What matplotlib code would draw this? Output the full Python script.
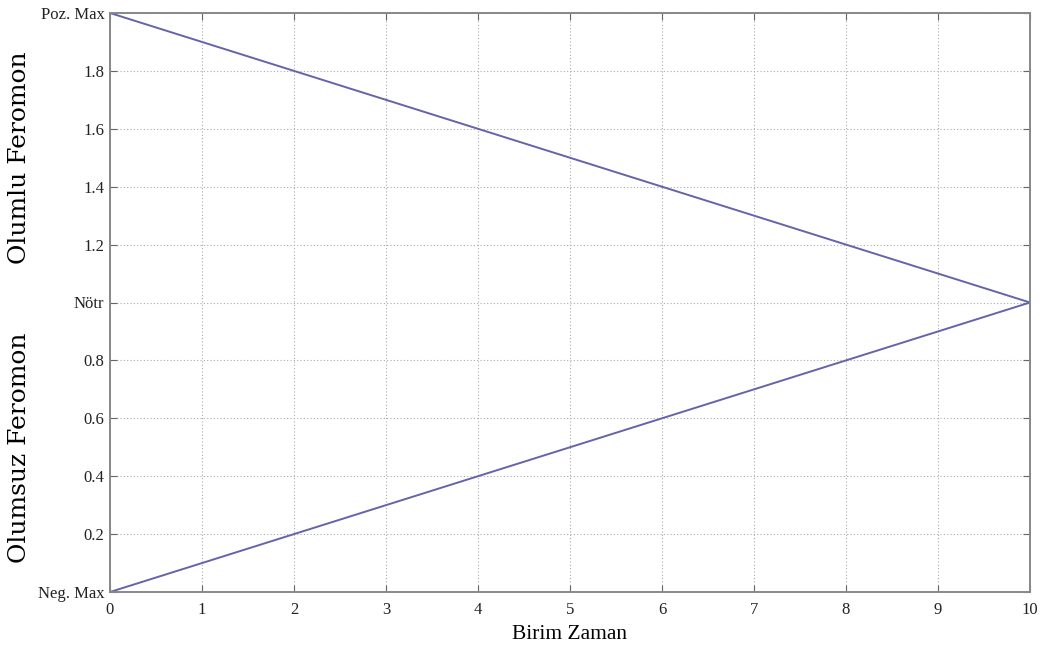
import numpy as np
import matplotlib.pyplot as plt

# Data
time = [0, 10]
positive = [2, 1]
negative = [0, 1]
xticks = list(range(0, 11))
yticks = [0, 0.2, 0.4, 0.6, 0.8, 1.0, 1.2, 1.4, 1.6, 1.8, 2.0]
ylabels = ["Neg. Max", "0.2", "0.4", "0.6", "0.8", "Nötr", "1.2", "1.4", "1.6", "1.8", "Poz. Max"]

plt.rcParams["font.family"] = ["Liberation Serif", "DejaVu Serif"]

fig = plt.figure(figsize=(10.46, 6.53), dpi=100)
ax = fig.add_axes([110 / 1046, 1 - 592 / 653, 920 / 1046, 579 / 653])

line_color = "#6464aa"
ax.plot(time, positive, color=line_color, lw=1.4)
ax.plot(time, negative, color=line_color, lw=1.4)

ax.set_xlim(0, 10)
ax.set_ylim(0, 2)
ax.set_xticks(xticks)
ax.set_yticks(yticks)
ax.set_yticklabels(ylabels)
ax.tick_params(direction="in", top=True, right=True, labelsize=12, length=5,
               color="#666666", labelcolor="#222222")
ax.tick_params(axis="x", pad=7)
ax.tick_params(axis="y", pad=4)
ax.grid(True, linestyle=(0, (1, 2)), color="#aaaaaa", lw=0.8)
for s in ax.spines.values():
    s.set_color("#888888")
    s.set_linewidth(1.4)

ax.set_xlabel("Birim Zaman", fontsize=15.5, labelpad=5)
fig.text(20 / 1046, 1 - 158 / 653, "Olumlu Feromon", rotation=90, fontsize=18,
         family="DejaVu Serif", ha="center", va="center")
fig.text(20 / 1046, 1 - 448 / 653, "Olumsuz Feromon", rotation=90, fontsize=18,
         family="DejaVu Serif", ha="center", va="center")

fig.savefig("out.png", dpi=100)
